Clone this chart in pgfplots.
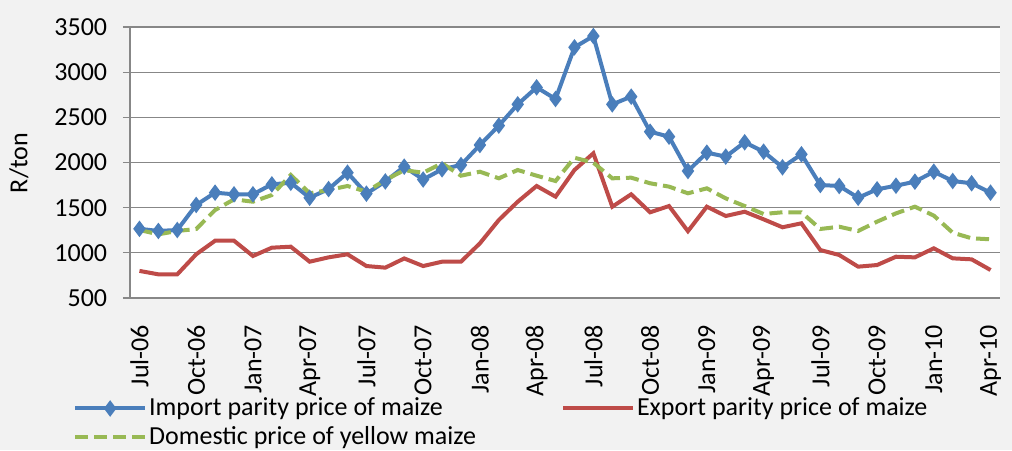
\documentclass[border=0pt]{standalone}
\usepackage{pgfplots}
\pgfplotsset{compat=1.18}
\usepackage{fontspec}
\setmainfont{Carlito}
\definecolor{bgc}{HTML}{F2F2F2}
\definecolor{gridc}{HTML}{878787}
\definecolor{cblue}{HTML}{4A7EBB}
\definecolor{cred}{HTML}{BE4B48}
\definecolor{cgreen}{HTML}{98B954}
\pgfplotstableread{
x imp exp dom
0 1266 800 1253
1 1242 762 1205
2 1253 762 1242
3 1530 984 1264
4 1666 1134 1474
5 1648 1134 1592
6 1648 965 1566
7 1758 1057 1640
8 1776 1068 1862
9 1610 902 1659
10 1706 950 1696
11 1887 984 1740
12 1655 854 1677
13 1790 836 1806
14 1954 938 1915
15 1812 854 1887
16 1925 902 1991
17 1972 902 1854
18 2194 1105 1898
19 2408 1363 1825
20 2644 1566 1917
21 2832 1740 1854
22 2703 1622 1795
23 3275 1917 2053
24 3400 2102 1998
25 2644 1511 1825
26 2729 1648 1832
27 2341 1449 1770
28 2286 1518 1733
29 1906 1240 1659
30 2109 1511 1714
31 2065 1408 1603
32 2224 1455 1518
33 2120 1371 1430
34 1947 1283 1449
35 2091 1327 1449
36 1751 1031 1264
37 1740 976 1289
38 1610 847 1242
39 1703 865 1345
40 1743 957 1437
41 1788 950 1511
42 1898 1050 1412
43 1795 939 1223
44 1770 928 1161
45 1666 810 1150
}\datatable
\begin{document}
\fontsize{26}{30}\selectfont
\begin{tikzpicture}
\useasboundingbox (0pt,0pt) rectangle (1012pt,-450pt);
\fill[bgc] (0pt,0pt) rectangle (1012pt,-450pt);
\begin{axis}[
  at={(130pt,-298pt)}, anchor=south west,
  scale only axis, width=870pt, height=271pt,
  axis background/.style={fill=white},
  xmin=-0.5, xmax=45.5, ymin=500, ymax=3500,
  ytick={500,1000,...,3500},
  xtick={0,3,...,45},
  xticklabels={Jul-06,Oct-06,Jan-07,Apr-07,Jul-07,Oct-07,Jan-08,Apr-08,Jul-08,Oct-08,Jan-09,Apr-09,Jul-09,Oct-09,Jan-10,Apr-10},
  extra x ticks={-0.5,2.5,...,44.5},
  extra x tick labels={},
  extra x tick style={major tick length=8pt, tick style={gridc, line width=1.2pt}, xtick pos=bottom, tickpos=bottom, xmajorgrids=false},
  x tick style={draw=none},
  axis x line*=bottom, axis y line*=left,
  axis line style={gridc, line width=1.3pt, -},
  y tick style={gridc, line width=1.2pt},
  tick align=outside, major tick length=7pt,
  ymajorgrids, grid style={gridc, line width=1.2pt},
  /pgf/number format/assume math mode=true,
  /pgf/number format/1000 sep={},
  tick label style={font=\fontsize{26}{30}\selectfont},
  xticklabel style={rotate=90, anchor=east, xshift=-11pt},
  yticklabel style={xshift=-7pt},
  ylabel={R/ton},
  ylabel style={font=\fontsize{26}{30}\selectfont, at={(axis description cs:-0.1276,0.498)}, anchor=center, rotate=0},
  legend columns=2,
  legend cell align=left,
  legend style={at={(axis description cs:-0.069,-0.352)}, anchor=north west, draw=none, fill=none,
    font=\fontsize{26}{30}\selectfont, row sep=3pt,
    /tikz/every even column/.append style={column sep=83pt}},
  legend image code/.code={\draw[mark repeat=2,mark phase=2,#1] plot coordinates {(0pt,0pt) (35pt,0pt) (70pt,0pt)};},
]
\addplot[cblue, line width=4pt, mark=diamond*, mark size=5pt, mark options={solid}] table[x=x,y=imp] {\datatable};
\addlegendentry{Import parity price of maize}
\addplot[cred, line width=4pt] table[x=x,y=exp] {\datatable};
\addlegendentry{Export parity price of maize}
\addplot[cgreen, line width=4pt, dash pattern=on 13pt off 6pt] table[x=x,y=dom] {\datatable};
\addlegendentry{Domestic price of yellow maize}
\end{axis}
\end{tikzpicture}
\end{document}
